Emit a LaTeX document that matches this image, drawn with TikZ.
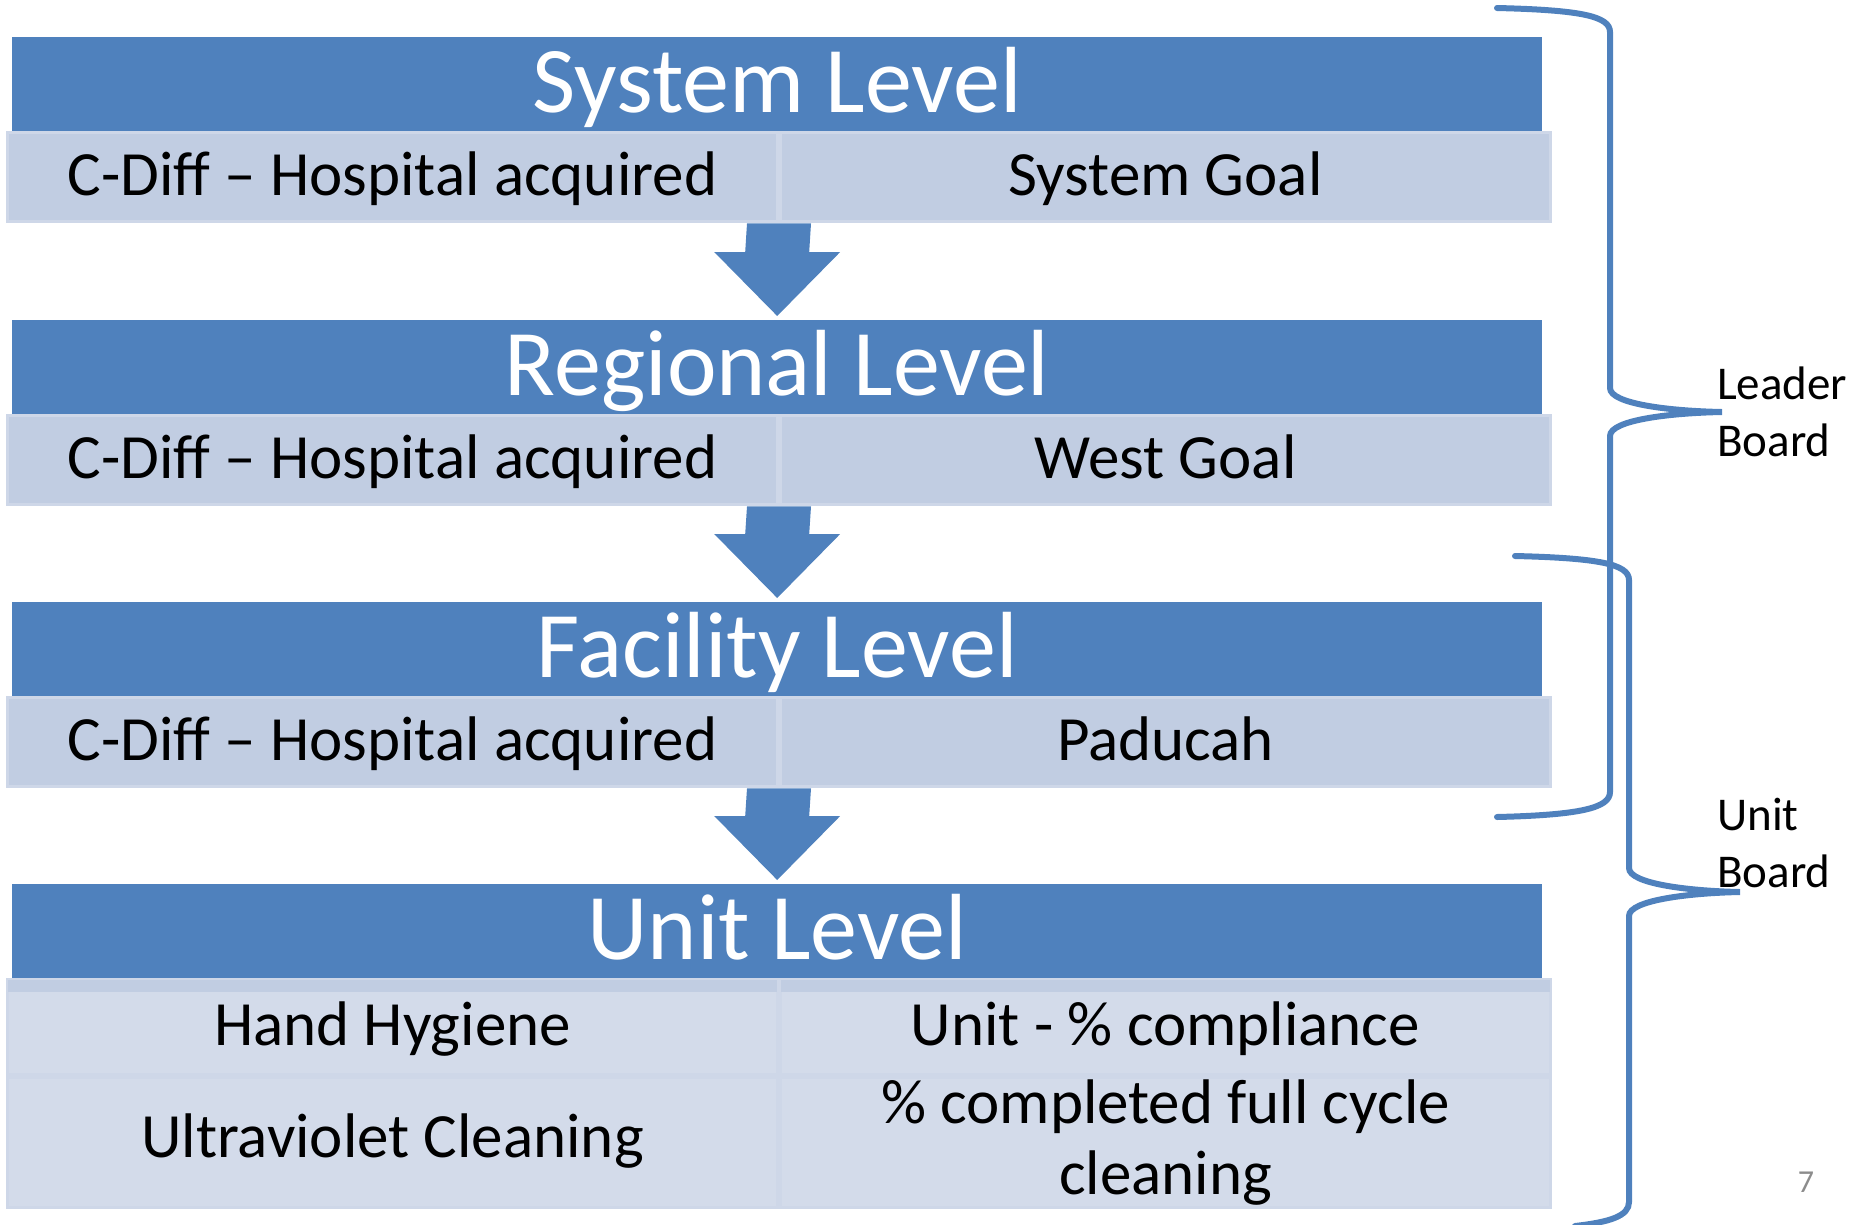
\documentclass[tikz,border=0pt]{standalone}
\usepackage{fontspec}
\setmainfont{Carlito}
\usetikzlibrary{positioning, calc}

\definecolor{headblue}{HTML}{4F81BD}
\definecolor{goalfill}{HTML}{C1CDE2}
\definecolor{unitfill}{HTML}{D3DBEA}
\definecolor{cellline}{HTML}{CED7E8}
\definecolor{pagegray}{HTML}{8C8C8C}

\newcommand{\headfont}{\fontsize{94}{113}\selectfont}
\newcommand{\cellfont}{\fontsize{63}{71}\selectfont}
\newcommand{\boardfont}{\fontsize{47}{57}\selectfont}

\begin{document}
\begin{tikzpicture}[x=1pt, y=-1pt,
    levelhead/.style={fill=headblue, text=white, font=\headfont, minimum width=1530, minimum height=94,
        inner sep=0, anchor=north west, text height=56pt, text depth=0pt},
    cellbase/.style={draw=cellline, line width=3, font=\cellfont, minimum width=770, inner sep=0, anchor=north west},
    goalcell/.style={cellbase, fill=goalfill, minimum height=89, text height=37pt, text depth=0pt},
    unitcell/.style={cellbase, fill=unitfill, text height=37pt, text depth=0pt},
    unitwrap/.style={cellbase, fill=unitfill, align=center},
    bracepen/.style={draw=headblue, line width=6, line cap=round},
    boardlabel/.style={font=\boardfont, align=left, inner sep=0, anchor=north west}
]
    \useasboundingbox (0,0) rectangle (1856,1224);

    % level headers
    \node[levelhead] (sysH)  at (12,37)  {System Level};
    \node[levelhead] (regH)  at (12,320) {Regional Level};
    \node[levelhead] (facH)  at (12,602) {Facility Level};
    \node[levelhead] (unitH) at (12,884) {Unit Level};

    % goal rows
    \node[goalcell] (sysL) at ([xshift=-6pt]sysH.south west) {C-Diff – Hospital acquired};
    \node[goalcell, right=0pt of sysL] (sysR) {System Goal};
    \node[goalcell] (regL) at ([xshift=-6pt]regH.south west) {C-Diff – Hospital acquired};
    \node[goalcell, right=0pt of regL] (regR) {West Goal};
    \node[goalcell] (facL) at ([xshift=-6pt]facH.south west) {C-Diff – Hospital acquired};
    \node[goalcell, right=0pt of facL] (facR) {Paducah};

    % unit rows
    \node[unitcell, minimum height=95] (handL) at ([xshift=-6pt]unitH.south west) {Hand Hygiene};
    \node[unitcell, minimum height=95, right=0pt of handL] (handR) {Unit - \% compliance};
    \node[unitcell, minimum height=130, text height=30pt, below=0pt of handL] (uvL) {Ultraviolet Cleaning};
    \node[unitwrap, minimum height=130, right=0pt of uvL] (uvR) {\% completed full cycle\\cleaning};
    \fill[goalfill] ([xshift=2pt,yshift=-2pt]handL.north west) rectangle ([xshift=-2pt,yshift=-14pt]handL.north east);
    \fill[goalfill] ([xshift=2pt,yshift=-2pt]handR.north west) rectangle ([xshift=-2pt,yshift=-14pt]handR.north east);

    % block arrows
    \foreach \a/\b in {sysL/regH, regL/facH, facL/unitH}
        \fill[headblue] ($(\a.south east)+(-32,0)$) -- ($(\a.south east)+(32,0)$)
            -- ($(\b.north)+(32,-68)$) -- ($(\b.north)+(63,-68)$) -- ($(\b.north)+(0,-4)$)
            -- ($(\b.north)+(-63,-68)$) -- ($(\b.north)+(-32,-68)$) -- cycle;

    % braces
    \coordinate (leadTip) at (1722,412);
    \coordinate (unitTip) at (1740,892);
    \draw[bracepen] (1497,8) .. controls (1580,10) and (1610,16) .. (1610,32) -- (1610,388)
        .. controls (1610,404) and (1670,411) .. (leadTip)
        .. controls (1670,413) and (1610,420) .. (1610,436) -- (1610,792)
        .. controls (1610,808) and (1580,815) .. (1497,817);
    \draw[bracepen] (1515,556) .. controls (1598,558) and (1629,564) .. (1629,580) -- (1629,868)
        .. controls (1629,884) and (1690,891) .. (unitTip)
        .. controls (1690,893) and (1629,900) .. (1629,916) -- (1629,1202)
        .. controls (1629,1216) and (1610,1222) .. (1575,1226);

    \node[boardlabel] (leadLbl) at (1717,367) {Leader\\Board};
    \node[boardlabel] (unitLbl) at (1717,798) {Unit\\Board};

    \node[font=\fontsize{32}{38}\selectfont, text=pagegray, inner sep=0] (pnum) at (1806,1182) {7};
\end{tikzpicture}
\end{document}
